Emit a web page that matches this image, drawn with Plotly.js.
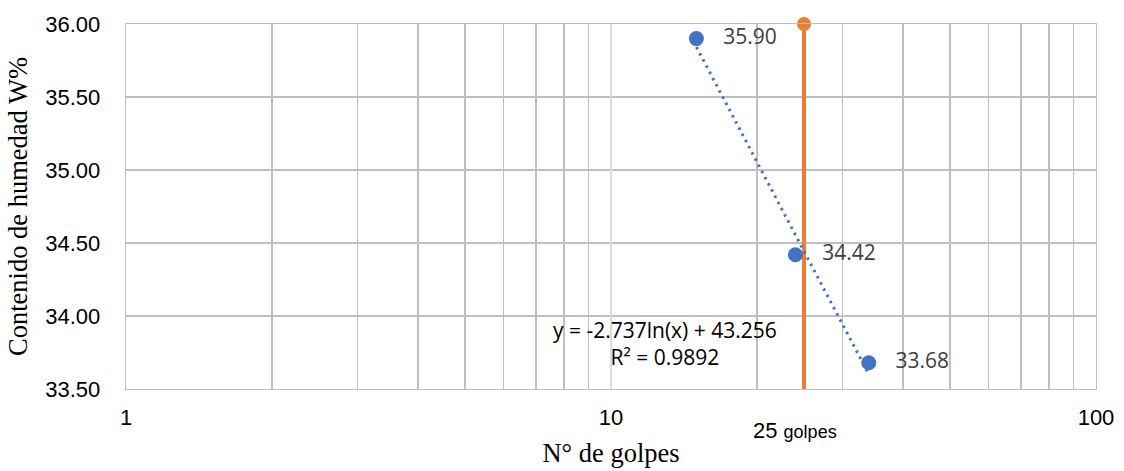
<!DOCTYPE html>
<html>
<head>
<meta charset="utf-8">
<script src="https://cdn.plot.ly/plotly-3.0.1.min.js"></script>
<style>html,body{margin:0;padding:0;background:#fff;}#chart{width:1124px;height:471px;}</style>
</head>
<body>
<div id="chart"></div>
<script>
// ---- data ----
const golpes = [15, 24, 34];
const humedad = [35.90, 34.42, 33.68];
const puntoLabels = ['35.90', '34.42', '33.68'];
const linea25X = [25, 25];
const linea25Y = [33.5, 36.0];
const xTickVals = [1, 10, 100];
const xTickText = ['1', '10', '100'];
const yTickVals = [33.5, 34.0, 34.5, 35.0, 35.5, 36.0];
const ecuacionText = 'y = -2.737ln(x) + 43.256<br>R² = 0.9892';
const marca25Text = '25 <span style="font-size:18px">golpes</span>';

// logarithmic trendline (least squares on ln x)
const lnx = golpes.map(Math.log);
const n = golpes.length;
const mx = lnx.reduce((a, b) => a + b, 0) / n;
const my = humedad.reduce((a, b) => a + b, 0) / n;
let sxy = 0, sxx = 0;
for (let i = 0; i < n; i++) { sxy += (lnx[i] - mx) * (humedad[i] - my); sxx += (lnx[i] - mx) ** 2; }
const slope = sxy / sxx, icpt = my - slope * mx;
const trendX = [Math.min(...golpes), Math.max(...golpes)];
const trendY = trendX.map(x => slope * Math.log(x) + icpt);

const pad = '\u00a0\u00a0\u00a0';
const traces = [
  { x: [10, 10], y: linea25Y, mode: 'lines', line: { color: '#e6e6e6', width: 1.5 }, hoverinfo: 'skip', showlegend: false },
  { x: linea25X, y: linea25Y, mode: 'lines', line: { color: '#ED7D31', width: 4 }, cliponaxis: false, showlegend: false },
  { x: [linea25X[1]], y: [linea25Y[1]], mode: 'markers', marker: { color: '#ED7D31', size: 14, opacity: 1 },
    cliponaxis: false, showlegend: false },
  { x: trendX, y: trendY, mode: 'lines', line: { color: '#4472C4', width: 3, dash: '2.5px,4.5px' }, showlegend: false },
  { x: golpes, y: humedad, mode: 'markers+text', text: puntoLabels.map(t => pad + t), textposition: 'middle right',
    textfont: { family: 'Open Sans', size: 21, color: '#404040' },
    marker: { color: '#4472C4', size: 15 }, cliponaxis: false, showlegend: false }
];

const layout = {
  width: 1124, height: 471,
  margin: { l: 126, r: 28, t: 24, b: 82 },
  paper_bgcolor: '#fff', plot_bgcolor: '#fff',
  font: { family: 'Liberation Sans, Arial', size: 22, color: '#000' },
  xaxis: {
    type: 'log', range: [0, 2], tickvals: xTickVals, ticktext: xTickText,
    showgrid: true, gridcolor: '#bfbfbf', gridwidth: 1.3,
    minor: { dtick: 'D1', showgrid: true, gridcolor: '#bfbfbf', gridwidth: 1.3, ticks: '' },
    showline: true, linecolor: '#bfbfbf', linewidth: 1.3, mirror: true,
    ticks: '', ticklabelstandoff: 8, zeroline: false,
    tickfont: { family: 'Liberation Sans, Arial', size: 22, color: '#000' },
    title: { text: 'N° de golpes', font: { family: 'Liberation Serif, Times New Roman', size: 26.5, color: '#000' }, standoff: 14 }
  },
  yaxis: {
    range: [33.5, 36], tickvals: yTickVals, tickformat: '.2f',
    showgrid: true, gridcolor: '#bfbfbf', gridwidth: 1.3,
    showline: true, linecolor: '#bfbfbf', linewidth: 1.3, mirror: true,
    ticks: '', ticklabelstandoff: 20, zeroline: false,
    tickfont: { family: 'Liberation Sans, Arial', size: 22, color: '#000' },
    title: { text: 'Contenido de humedad W%', font: { family: 'Liberation Serif, Times New Roman', size: 26.5, color: '#000' }, standoff: 10 }
  },
  annotations: [
    { xref: 'paper', yref: 'paper', x: 0.5557, y: 0.126, text: ecuacionText, showarrow: false,
      align: 'center', xanchor: 'center', yanchor: 'middle',
      font: { family: 'Open Sans', size: 21, color: '#000' } },
    { xref: 'paper', yref: 'paper', x: 0.6897, y: -0.115, text: marca25Text, showarrow: false,
      xanchor: 'center', yanchor: 'middle',
      font: { family: 'Liberation Sans, Arial', size: 22, color: '#000' } }
  ],
  showlegend: false
};

Plotly.newPlot('chart', traces, layout, { displayModeBar: false, staticPlot: true });
</script>
</body>
</html>
